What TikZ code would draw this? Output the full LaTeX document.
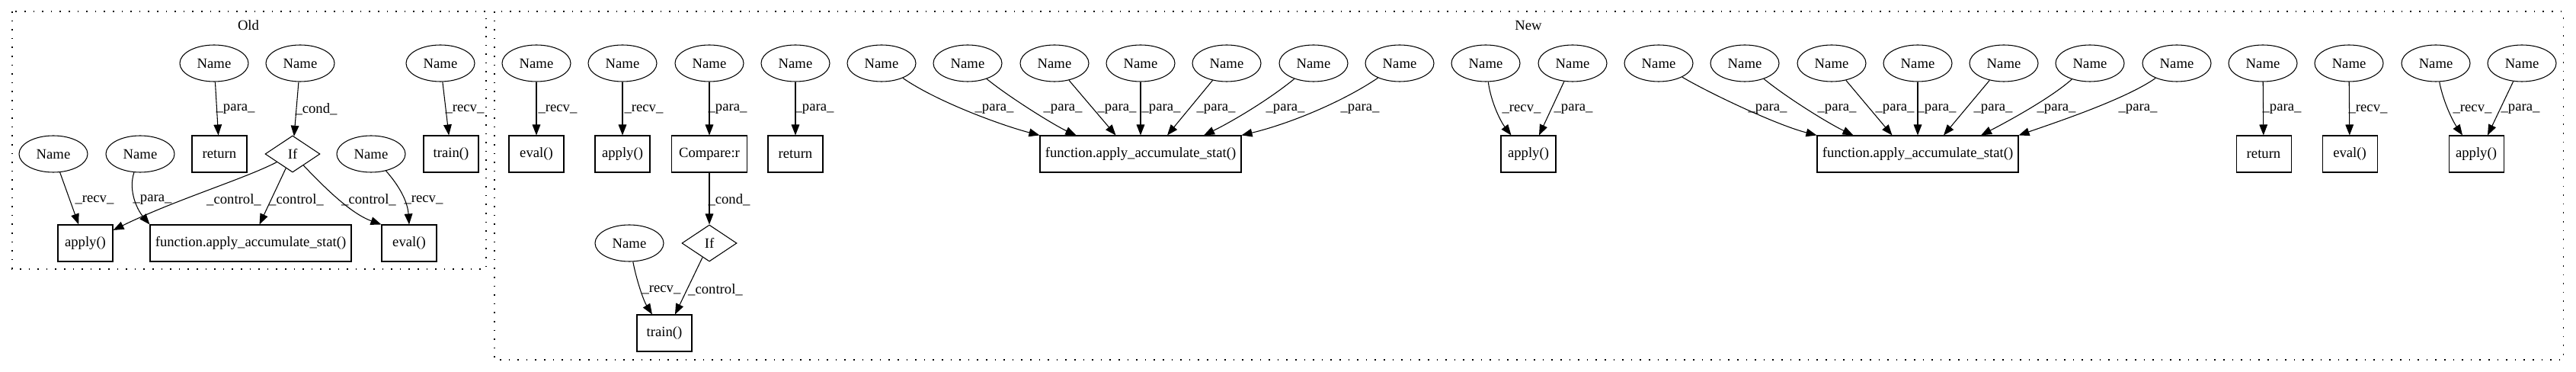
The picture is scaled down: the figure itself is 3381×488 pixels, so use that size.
\documentclass[tikz,border=0pt]{standalone}
\usepackage{fontspec}
\setmainfont{Liberation Serif}
\usetikzlibrary{shapes.geometric, arrows.meta, calc}

\begin{document}
\begin{tikzpicture}[x=0.75pt, y=-0.75pt, >={Triangle[length=10.5pt, width=8pt]},
  every node/.style={font=\fontsize{14}{16}\selectfont},
  namenode/.style={ellipse, draw, line width=0.8pt, minimum width=67.5pt, minimum height=36pt, inner sep=0pt},
  box/.style={rectangle, draw, line width=0.8pt, minimum width=54pt, minimum height=36pt, inner sep=0pt},
  cond/.style={diamond, draw, line width=0.8pt, aspect=1.5, minimum width=54pt, minimum height=36pt, inner sep=0pt},
  lbl/.style={inner sep=0pt},
  arr/.style={->, line width=0.8pt},
  cluster/.style={draw, line width=0.8pt, dash pattern=on 1.2pt off 7.5pt}]
  \useasboundingbox (0,0) rectangle (3381,488);

  % Old cluster
  \draw[cluster] (16,15) rectangle (638,353);
  \node (oldtitle) at (326,33) {Old};

  \node[namenode] (oldn1) at (281,83) {Name};
  \node[namenode] (oldn2) at (394,83) {Name};
  \node[namenode] (oldn3) at (578,83) {Name};
  \node[namenode] (oldn4) at (70,202) {Name};
  \node[namenode] (oldn5) at (184,202) {Name};
  \node[namenode] (oldn6) at (487,202) {Name};
  \node[box] (oldret) at (288,202) {return};
  \node[cond] (oldif) at (384,202) {If};
  \node[box] (oldtrain) at (592,202) {train()};
  \node[box] (oldapply) at (112,319) {apply()};
  \node[box, minimum width=198pt] (oldfun) at (329,319) {function.apply\_accumulate\_stat()};
  \node[box] (oldeval) at (537,319) {eval()};

  \draw[arr] (oldn1) -- (oldret);
  \draw[arr] (oldn2) -- (oldif);
  \draw[arr] (oldn3) -- (oldtrain);
  \draw[arr] (oldn4) -- (oldapply);
  \draw[arr] (oldn5) .. controls (168,250) and (180,275) .. (oldfun.north west);
  \draw[arr] (oldif) .. controls (320,235) and (230,262) .. (oldapply.25);
  \draw[arr] (oldif) -- (oldfun);
  \draw[arr] (oldif) .. controls (425,245) and (460,280) .. (oldeval.north west);
  \draw[arr] (oldn6) .. controls (525,245) and (535,265) .. (oldeval.north);

  \node[lbl] (oldl1) at (309,143) {\_para\_};
  \node[lbl] (oldl2) at (415,143) {\_cond\_};
  \node[lbl] (oldl3) at (610,143) {\_recv\_};
  \node[lbl] (oldl4) at (124,262) {\_recv\_};
  \node[lbl] (oldl5) at (200,262) {\_para\_};
  \node[lbl] (oldl6) at (307,262) {\_control\_};
  \node[lbl] (oldl7) at (389,262) {\_control\_};
  \node[lbl] (oldl8) at (484,262) {\_control\_};
  \node[lbl] (oldl9) at (556,262) {\_recv\_};

  % New cluster
  \draw[cluster] (649,15) rectangle (3364,472);
  \node (newtitle) at (2006,33) {New};

  % top row of names
  \node[namenode] (new1) at (704,83) {Name};
  \node[namenode] (new2) at (817,83) {Name};
  \node[namenode] (new3) at (931,83) {Name};
  \node[namenode] (new4) at (1044,83) {Name};
  \node[namenode] (new5) at (1157,83) {Name};
  \node[namenode] (new6) at (1270,83) {Name};
  \node[namenode] (new7) at (1384,83) {Name};
  \node[namenode] (new8) at (1497,83) {Name};
  \node[namenode] (new9) at (1610,83) {Name};
  \node[namenode] (new10) at (1724,83) {Name};
  \node[namenode] (new11) at (1837,83) {Name};
  \node[namenode] (new12) at (1950,83) {Name};
  \node[namenode] (new13) at (2064,83) {Name};
  \node[namenode] (new14) at (2177,83) {Name};
  \node[namenode] (new15) at (2290,83) {Name};
  \node[namenode] (new16) at (2404,83) {Name};
  \node[namenode] (new17) at (2517,83) {Name};
  \node[namenode] (new18) at (2630,83) {Name};
  \node[namenode] (new19) at (2743,83) {Name};
  \node[namenode] (new20) at (2857,83) {Name};
  \node[namenode] (new21) at (2970,83) {Name};
  \node[namenode] (new22) at (3083,83) {Name};
  \node[namenode] (new23) at (3197,83) {Name};
  \node[namenode] (new24) at (3310,83) {Name};

  % calls
  \node[box] (neweval1) at (704,202) {eval()};
  \node[box] (newapply1) at (817,202) {apply()};
  \node[box, minimum width=74pt] (newcmp) at (931,202) {Compare:r};
  \node[box] (newret1) at (1044,202) {return};
  \node[box, minimum width=198pt] (newfun1) at (1497,202) {function.apply\_accumulate\_stat()};
  \node[box] (newapply2) at (2006,202) {apply()};
  \node[box, minimum width=198pt] (newfun2) at (2517,202) {function.apply\_accumulate\_stat()};
  \node[box] (newret2) at (2971,202) {return};
  \node[box] (neweval2) at (3084,202) {eval()};
  \node[box] (newapply3) at (3250,202) {apply()};
  \node[namenode] (new25) at (826,319) {Name};
  \node[cond] (newif) at (931,319) {If};
  \node[box] (newtrain) at (872,437) {train()};

  \draw[arr] (new1) -- (neweval1);
  \draw[arr] (new2) -- (newapply1);
  \draw[arr] (new3) -- (newcmp);
  \draw[arr] (new4) -- (newret1);
  \draw[arr] (new5) .. controls (1229,133) and (1313,164) .. (newfun1.north west);
  \draw[arr] (new6) .. controls (1325,128) and (1385,165) .. ($(newfun1.north west)+(48,0)$);
  \draw[arr] (new7) -- ($(newfun1.north west)+(100,0)$);
  \draw[arr] (new8) -- (newfun1);
  \draw[arr] (new9) -- ($(newfun1.north)+(35,0)$);
  \draw[arr] (new10) .. controls (1660,135) and (1610,163) .. ($(newfun1.north)+(83,0)$);
  \draw[arr] (new11) .. controls (1760,135) and (1690,163) .. (newfun1.north east);
  \draw[arr] (new12) .. controls (1957,135) and (1970,160) .. ($(newapply2.north west)+(14,0)$);
  \draw[arr] (new13) -- ($(newapply2.north)+(14,0)$);
  \draw[arr] (new14) .. controls (2245,123) and (2332,164) .. (newfun2.north west);
  \draw[arr] (new15) .. controls (2345,128) and (2400,162) .. ($(newfun2.north west)+(48,0)$);
  \draw[arr] (new16) -- ($(newfun2.north west)+(99,0)$);
  \draw[arr] (new17) -- (newfun2);
  \draw[arr] (new18) -- ($(newfun2.north)+(34,0)$);
  \draw[arr] (new19) .. controls (2690,130) and (2630,162) .. ($(newfun2.north)+(83,0)$);
  \draw[arr] (new20) .. controls (2790,130) and (2700,160) .. (newfun2.north east);
  \draw[arr] (new21) -- (newret2);
  \draw[arr] (new22) -- (neweval2);
  \draw[arr] (new23) .. controls (3207,135) and (3220,160) .. ($(newapply3.north)+(-18,0)$);
  \draw[arr] (new24) -- ($(newapply3.north)+(15,0)$);
  \draw[arr] (newcmp) -- (newif);
  \draw[arr] (new25) .. controls (836,370) and (845,395) .. ($(newtrain.north)+(-16,0)$);
  \draw[arr] (newif) -- ($(newtrain.north)+(14,0)$);

  % edge labels
  \node[lbl] (newl1) at (732,143) {\_recv\_};
  \node[lbl] (newl2) at (845,143) {\_recv\_};
  \node[lbl] (newl3) at (955,143) {\_para\_};
  \node[lbl] (newl4) at (1069,143) {\_para\_};
  \node[lbl] (newl5) at (1305,143) {\_para\_};
  \node[lbl] (newl6) at (1395,143) {\_para\_};
  \node[lbl] (newl7) at (1466,143) {\_para\_};
  \node[lbl] (newl8) at (1524,143) {\_para\_};
  \node[lbl] (newl9) at (1596,143) {\_para\_};
  \node[lbl] (newl10) at (1687,143) {\_para\_};
  \node[lbl] (newl11) at (1785,143) {\_para\_};
  \node[lbl] (newl12) at (1997,143) {\_recv\_};
  \node[lbl] (newl13) at (2065,143) {\_para\_};
  \node[lbl] (newl14) at (2320,143) {\_para\_};
  \node[lbl] (newl15) at (2411,143) {\_para\_};
  \node[lbl] (newl16) at (2487,143) {\_para\_};
  \node[lbl] (newl17) at (2542,143) {\_para\_};
  \node[lbl] (newl18) at (2616,143) {\_para\_};
  \node[lbl] (newl19) at (2699,143) {\_para\_};
  \node[lbl] (newl20) at (2806,143) {\_para\_};
  \node[lbl] (newl21) at (2995,143) {\_para\_};
  \node[lbl] (newl22) at (3108,143) {\_recv\_};
  \node[lbl] (newl23) at (3245,143) {\_recv\_};
  \node[lbl] (newl24) at (3308,143) {\_para\_};
  \node[lbl] (newl25) at (957,262) {\_cond\_};
  \node[lbl] (newl26) at (868,380) {\_recv\_};
  \node[lbl] (newl27) at (939,380) {\_control\_};
\end{tikzpicture}
\end{document}
